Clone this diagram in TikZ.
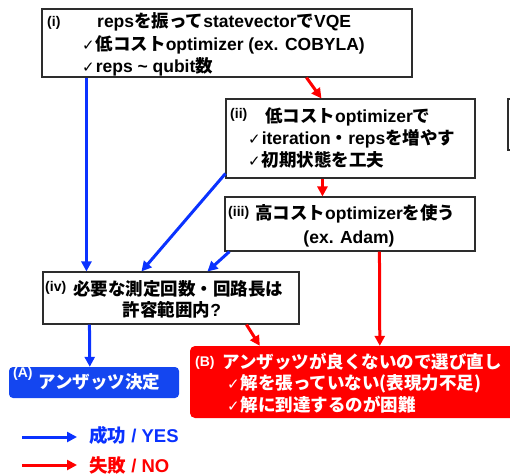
\documentclass[tikz,border=0pt]{standalone}
\usepackage{fontspec}
\setmainfont{Liberation Sans}
\newfontfamily\jpf{Noto Sans CJK JP}
\newfontfamily\djv{DejaVu Sans}
\usetikzlibrary{arrows.meta}
\definecolor{myblue}{RGB}{10,50,255}
\definecolor{boxblue}{RGB}{20,70,240}
\definecolor{myred}{RGB}{255,0,0}
\definecolor{edgegray}{RGB}{45,45,45}
\newcommand{\J}[1]{{\jpf #1}}
\newcommand{\ck}{{\djv\mdseries\fontsize{15}{15}\selectfont ✓}\hspace{1pt}}
\begin{document}
\begin{tikzpicture}[x=1pt,y=-1pt,
  box/.style={draw=edgegray, line width=1.1pt, inner sep=0pt, rectangle},
  txt/.style={anchor=base west, inner sep=0pt, font=\bfseries\fontsize{17.5}{21}\selectfont},
  ctxt/.style={anchor=base, inner sep=0pt, font=\bfseries\fontsize{17.5}{21}\selectfont},
  lbl/.style={anchor=base west, inner sep=0pt, font=\bfseries\fontsize{14}{14}\selectfont},
  barrow/.style={draw=myblue, line width=3pt, -{Triangle[length=10pt,width=10pt]}},
  rarrow/.style={draw=myred, line width=3pt, -{Triangle[length=10pt,width=10pt]}}]
\useasboundingbox (0,0) rectangle (510,474);

% boxes
\node[box, minimum width=370pt, minimum height=68pt] (i) at (227,43) {};
\node[box, minimum width=249pt, minimum height=79pt] (ii) at (350.5,138.5) {};
\node[box, minimum width=250pt, minimum height=54pt] (iii) at (350,224) {};
\node[box, minimum width=256pt, minimum height=52pt] (iv) at (171,298) {};
\node[rectangle, fill=boxblue, rounded corners=4pt, inner sep=0pt,
      minimum width=170pt, minimum height=31pt] (A) at (94,382.5) {};
\node[rectangle, fill=myred, rounded corners=5pt, inner sep=0pt,
      minimum width=340pt, minimum height=72pt] (B) at (360,382) {};
% partly visible box at right edge
\draw[draw=edgegray, line width=1.1pt] (522,99) -- (508,99) -- (508,150) -- (522,150);

% texts of (i)
\node[lbl] (li) at (47,26) {(i)};
\node[txt] (i1) at (97,27.5) {reps\J{を振って}statevector\J{で}VQE};
\node[txt] (i2) at (82,50.5) {\ck\J{低コスト}optimizer (ex. COBYLA)};
\node[txt] (i3) at (82,72.5) {\ck reps \char`\~\ qubit\J{数}};

% texts of (ii)
\node[lbl] (lii) at (230,118) {(ii)};
\node[txt] (ii1) at (265,122.5) {\J{低コスト}optimizer\J{で}};
\node[txt] (ii2) at (248,144.5) {\ck iteration\J{・}reps\J{を増やす}};
\node[txt] (ii3) at (248,166.5) {\ck\J{初期状態を工夫}};

% texts of (iii)
\node[lbl] (liii) at (228,216.5) {(iii)};
\node[txt] (iii1) at (255,219.5) {\J{高コスト}optimizer\J{を使う}};
\node[ctxt] (iii2) at (349,243.5) {(ex. Adam)};

% texts of (iv)
\node[lbl] (liv) at (45,291.5) {(iv)};
\node[txt] (iv1) at (73,295.5) {\J{必要な測定回数・回路長は}};
\node[ctxt] (iv2) at (172,316.5) {\J{許容範囲内}?};

% texts of (A)
\node[lbl, text=white] (lA) at (13,377) {(A)};
\node[txt, text=white] (A1) at (38,388.5) {\J{アンザッツ決定}};

% texts of (B)
\node[lbl, text=white] (lB) at (195,366) {(B)};
\node[txt, text=white] (B1) at (222,368.5) {\J{アンザッツが良くないので選び直し}};
\node[txt, text=white] (B2) at (227,389.5) {\ck\J{解を張っていない(表現力不足)}};
\node[txt, text=white] (B3) at (227,411.5) {\ck\J{解に到達するのが困難}};

% connectors
\draw[barrow] ([xshift=45pt]i.south west) -- ([xshift=44pt]iv.north west);
\draw[barrow] ([yshift=5pt]ii.south west) -- ([xshift=99pt]iv.north west);
\draw[barrow] ([xshift=5pt]iii.south west) -- ([xshift=165pt]iv.north west);
\draw[rarrow] ([xshift=265pt]i.south west) -- ([xshift=96pt]ii.north west);
\draw[rarrow] ([xshift=97pt]ii.south west) -- ([xshift=98pt]iii.north west);
\draw[rarrow] ([xshift=155pt]iii.south west) -- ([xshift=190pt]B.north west);
\draw[rarrow] ([xshift=204pt]iv.south west) -- ([xshift=70pt]B.north west);
\draw[barrow] ([xshift=47pt]iv.south west) -- ([xshift=81pt]A.north west);

% legend
\coordinate (ys) at (22,437);
\coordinate (ye) at (77,437);
\coordinate (ns) at (22,465);
\coordinate (ne) at (77,465);
\draw[barrow] (ys) -- (ye);
\draw[rarrow] (ns) -- (ne);
\node[txt, text=myblue, font=\bfseries\fontsize{18.5}{21}\selectfont] (yes) at (89,442) {\J{成功} / YES};
\node[txt, text=myred, font=\bfseries\fontsize{18.5}{21}\selectfont] (no) at (89,472.5) {\J{失敗} / NO};
\end{tikzpicture}
\end{document}
